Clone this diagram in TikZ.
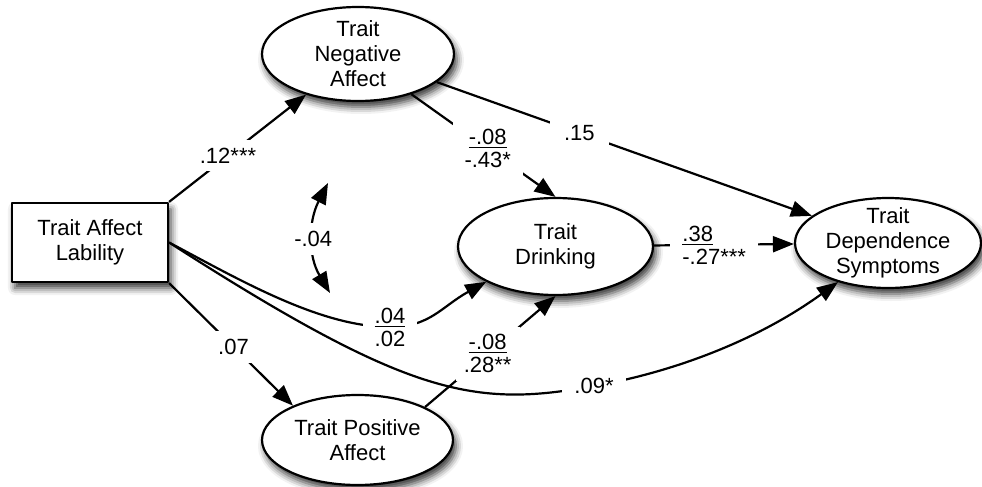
\documentclass[tikz,border=0pt]{standalone}
\usepackage{fontspec}
\setmainfont{Liberation Sans}
\usetikzlibrary{arrows.meta,shapes.geometric,shadows.blur}

\tikzset{
  softshadow/.style={blur shadow={shadow xshift=1.5pt, shadow yshift=-3pt,
      shadow blur radius=3.5pt, shadow opacity=80}},
  latent/.style={ellipse, draw, fill=white, line width=1.1pt, inner sep=0pt, softshadow},
  observed/.style={rectangle, draw, fill=white, line width=1.1pt, align=center,
    minimum width=78pt, minimum height=39.5pt, softshadow},
  vname/.style={align=center},
  effect/.style={-{Triangle[length=10.5pt,width=8pt]}, line width=1.1pt},
  covar/.style={{Triangle[length=10.5pt,width=8pt]}-{Triangle[length=10.5pt,width=8pt]}, line width=1.1pt},
  coef/.style={fill=white, align=center, inner xsep=3pt, inner ysep=2pt,
    font=\fontsize{11}{11.5}\selectfont}
}

\begin{document}
\begin{tikzpicture}[x=0.5pt, y=-0.5pt, line join=round, font=\fontsize{11}{12.5}\selectfont]
  \useasboundingbox (0,0) rectangle (982,487);
  % variables
  \node[observed] (tal) at (90,242.5) {Trait Affect\\Lability};
  \node[latent, minimum width=96pt, minimum height=47pt] (tna) at (358,54) {};
  \node[vname] (tnaText) at (tna) {Trait\\Negative\\Affect};
  \node[latent, minimum width=97.5pt, minimum height=48.5pt] (tdr) at (555.5,246.5) {};
  \node[vname] (tdrText) at (tdr) {Trait\\Drinking};
  \node[latent, minimum width=93pt, minimum height=45pt] (tds) at (888,243) {};
  \node[vname] (tdsText) at (tds) {Trait\\Dependence\\Symptoms};
  \node[latent, minimum width=95.5pt, minimum height=45pt] (tpa) at (357.5,440) {};
  \node[vname] (tpaText) at (tpa) {Trait Positive\\Affect};

  % straight paths
  \draw[effect] (tal.north east) -- node[coef, pos=0.43, inner ysep=4pt] {.12***} (tna);
  \draw[effect] (tna.-37) -- node[coef, pos=0.53, inner xsep=6pt, inner ysep=4pt] {\underline{-.08}\\-.43*} (tdr.north);
  \draw[effect] (tna) -- node[coef, pos=0.38, inner xsep=7pt] {.15} (tds);
  \draw[effect] (tdr) -- node[coef, pos=0.43, inner xsep=6pt, align=left] {\underline{.38}\\-.27***} (tds);
  \draw[effect] (tal.south east) -- node[coef, pos=0.52, inner ysep=4pt] {.07} (tpa.152);
  \draw[effect] (tpa.26) -- node[coef, pos=0.48, inner xsep=4pt, inner ysep=4pt] {\underline{-.08}\\.28**} (tdr.south);

  % curved paths out of lability
  \coordinate (w04) at (390,327);
  \coordinate (w09) at (594,386);
  \draw[effect] (tal.east) .. controls +(70,37) and +(-70,0) .. (w04)
    node[coef, inner xsep=6pt] {\underline{.04}\\.02}
    .. controls +(40,0) and +(-45,25) .. (tdr.207);
  \draw[effect] (tal.east) .. controls +(240,154) and +(-120,22) .. (w09)
    node[coef, inner xsep=6pt] {.09*}
    .. controls +(80,-14) and +(-80,58) .. (tds.218);

  % covariance
  \coordinate (covTop) at (328,183);
  \coordinate (covBot) at (330,293);
  \draw[covar] (covTop) .. controls (308,222) and (308,256) .. (covBot)
    node[coef, pos=0.5, inner ysep=4pt] {-.04};
\end{tikzpicture}
\end{document}
